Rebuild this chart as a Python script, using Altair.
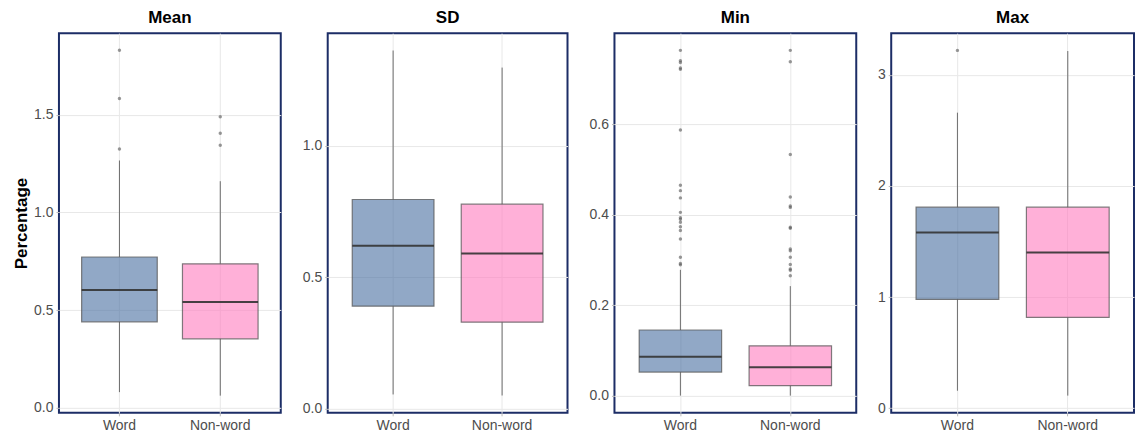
import altair as alt
import pandas as pd

groups = ["Word", "Non-word"]
panels = ["Mean", "SD", "Min", "Max"]

# box statistics per panel: [Word, Non-word]
mean_lo = [0.080, 0.062]
mean_q1 = [0.440, 0.353]
mean_med = [0.603, 0.541]
mean_q3 = [0.772, 0.737]
mean_hi = [1.266, 1.160]
mean_out_word = [1.830, 1.584, 1.325]
mean_out_non = [1.490, 1.406, 1.344]

sd_lo = [0.054, 0.050]
sd_q1 = [0.390, 0.329]
sd_med = [0.620, 0.590]
sd_q3 = [0.796, 0.778]
sd_hi = [1.363, 1.298]
sd_out_word = []
sd_out_non = []

min_lo = [0.0, 0.0]
min_q1 = [0.052, 0.022]
min_med = [0.0857, 0.0625]
min_q3 = [0.145, 0.110]
min_hi = [0.278, 0.242]
min_out_word = [0.763, 0.740, 0.736, 0.724, 0.721, 0.587, 0.465, 0.453, 0.437,
                0.405, 0.393, 0.390, 0.383, 0.373, 0.365, 0.346, 0.306, 0.292, 0.289]
min_out_non = [0.763, 0.738, 0.533, 0.439, 0.419, 0.416, 0.372, 0.370, 0.324,
               0.320, 0.306, 0.290, 0.280, 0.277, 0.265]

max_lo = [0.156, 0.112]
max_q1 = [0.978, 0.816]
max_med = [1.581, 1.401]
max_q3 = [1.809, 1.809]
max_hi = [2.660, 3.215]
max_out_word = [3.221]
max_out_non = []

panel_widths = [222, 240, 242, 243]
panel_domains = [[-0.026, 1.918], [-0.016, 1.429], [-0.038, 0.801], [-0.043, 3.376]]
panel_ticks = [[0, 0.5, 1.0, 1.5], [0, 0.5, 1.0], [0, 0.2, 0.4, 0.6], [0, 1, 2, 3]]
panel_formats = [".1f", ".1f", ".1f", "d"]

stats = {
    "Mean": (mean_lo, mean_q1, mean_med, mean_q3, mean_hi, mean_out_word, mean_out_non),
    "SD": (sd_lo, sd_q1, sd_med, sd_q3, sd_hi, sd_out_word, sd_out_non),
    "Min": (min_lo, min_q1, min_med, min_q3, min_hi, min_out_word, min_out_non),
    "Max": (max_lo, max_q1, max_med, max_q3, max_hi, max_out_word, max_out_non),
}

FONT = "Liberation Sans"
H = 380
fill_scale = alt.Scale(domain=groups, range=["#486ea0", "#ff7bbe"])


def make_panel(i, name):
    lo, q1, med, q3, hi, ow, on = stats[name]
    W = panel_widths[i]
    bw = 0.75 * W / 2.2
    box_df = pd.DataFrame({"group": groups, "lo": lo, "q1": q1, "med": med, "q3": q3, "hi": hi})
    out_df = pd.DataFrame({"group": ["Word"] * len(ow) + ["Non-word"] * len(on),
                           "v": list(ow) + list(on)})
    x = alt.X("group:N", sort=groups,
              scale=alt.Scale(type="band", paddingInner=0.25, paddingOuter=0.225),
              axis=alt.Axis(title=None, labelAngle=0, grid=True))
    yscale = alt.Scale(domain=panel_domains[i], nice=False, zero=False)
    yaxis = alt.Axis(values=panel_ticks[i], format=panel_formats[i],
                     title="Percentage" if i == 0 else None)
    base = alt.Chart(box_df)
    w1 = base.mark_rule(color="#555555", strokeWidth=1, opacity=0.85).encode(
        x=x, y=alt.Y("lo:Q", scale=yscale, axis=yaxis), y2="q1:Q")
    w2 = base.mark_rule(color="#555555", strokeWidth=1, opacity=0.85).encode(
        x=x, y=alt.Y("q3:Q"), y2="hi:Q")
    box = base.mark_bar(stroke="#555555", strokeWidth=1.2, strokeOpacity=0.75,
                        fillOpacity=0.6).encode(
        x=x, y=alt.Y("q1:Q"), y2="q3:Q",
        fill=alt.Fill("group:N", scale=fill_scale, legend=None))
    medl = base.mark_tick(color="#333333", size=bw, thickness=2, opacity=0.9).encode(
        x=x, y=alt.Y("med:Q"))
    layers = [w1, w2, box, medl]
    if len(out_df):
        pts = alt.Chart(out_df).mark_circle(size=12, color="#555555", opacity=0.6).encode(
            x=x, y=alt.Y("v:Q"))
        layers.append(pts)
    return alt.layer(*layers).properties(
        width=W, height=H,
        title=alt.TitleParams(name, fontSize=17, fontWeight="bold", font=FONT,
                              color="#000000", offset=6))


chart = alt.hconcat(*[make_panel(i, n) for i, n in enumerate(panels)],
                    spacing=19).resolve_scale(
    x="independent", y="independent"
).properties(
    padding={"left": 3, "top": 0, "right": 0, "bottom": 0}
).configure_view(
    stroke="#1c2d66", strokeWidth=2
).configure_axis(
    labelFont=FONT, labelFontSize=14, labelColor="#4d4d4d",
    titleFont=FONT, titleFontSize=17, titleFontWeight="bold", titleColor="#000000",
    gridColor="#e8e8e8", gridWidth=1, domain=False,
    tickColor="#bbbbbb", tickSize=3, labelPadding=3, titlePadding=3
)

chart.save("out.html", embed_options={"renderer": "svg", "actions": False})
